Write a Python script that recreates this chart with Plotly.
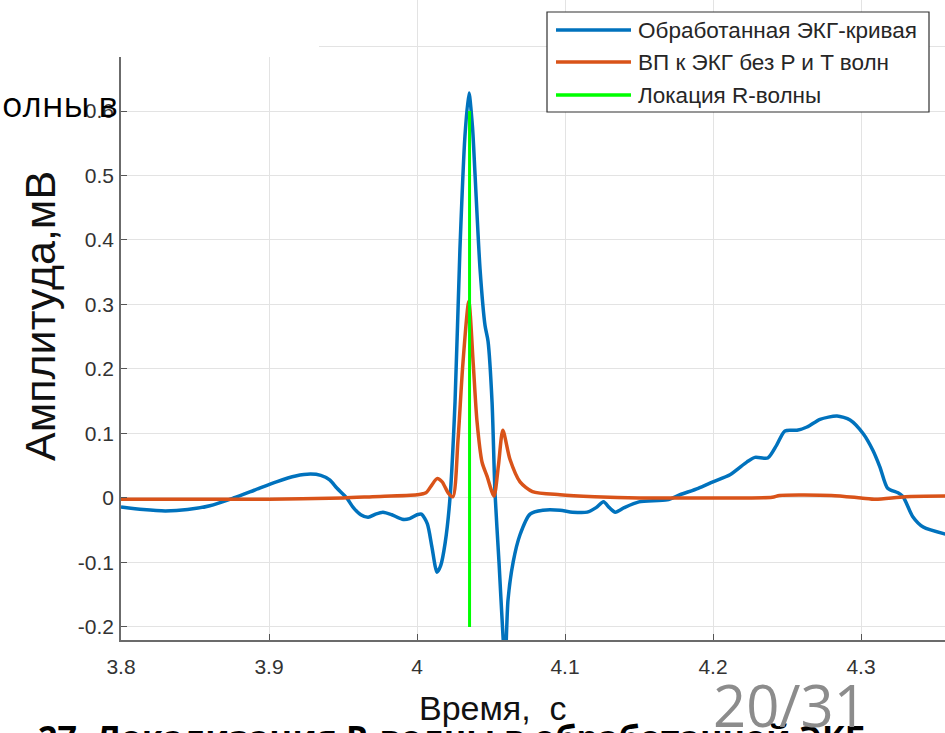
import plotly.graph_objects as go

# ---------------- data ----------------
ecg_t = [3.800, 3.815, 3.830, 3.845, 3.860, 3.876, 3.890, 3.905, 3.918, 3.928,
         3.935, 3.941, 3.946, 3.9525, 3.957, 3.962, 3.967, 3.972, 3.977, 3.983,
         3.990, 3.995, 4.000, 4.003, 4.007, 4.010, 4.0135, 4.016, 4.019, 4.0223,
         4.0257, 4.029, 4.0324, 4.0351, 4.0375, 4.0392, 4.0426, 4.046, 4.048, 4.0507,
         4.0527, 4.0554, 4.058, 4.0595, 4.0615, 4.065, 4.0696, 4.0764, 4.085, 4.0966,
         4.105, 4.115, 4.121, 4.126, 4.130, 4.134, 4.140, 4.150, 4.169, 4.1777,
         4.190, 4.200, 4.2115, 4.223, 4.2284, 4.237, 4.243, 4.2486, 4.2568, 4.2635,
         4.2723, 4.2838, 4.2926, 4.3014, 4.308, 4.3128, 4.318, 4.325, 4.3284, 4.335,
         4.342, 4.357]
ecg_v = [-0.014, -0.018, -0.020, -0.018, -0.012, 0.000, 0.012, 0.025, 0.034, 0.037,
         0.035, 0.028, 0.015, 0.000, -0.015, -0.026, -0.030, -0.025, -0.022, -0.026,
         -0.033, -0.032, -0.026, -0.025, -0.040, -0.075, -0.115, -0.105, -0.070, 0.000,
         0.149, 0.385, 0.561, 0.628, 0.575, 0.502, 0.355, 0.267, 0.243, 0.149,
         0.008, -0.099, -0.210, -0.260, -0.158, -0.099, -0.057, -0.025, -0.019, -0.019,
         -0.022, -0.022, -0.015, -0.006, -0.015, -0.022, -0.015, -0.006, -0.003, 0.005,
         0.015, 0.025, 0.036, 0.056, 0.063, 0.062, 0.082, 0.104, 0.105, 0.110,
         0.122, 0.127, 0.121, 0.100, 0.074, 0.048, 0.015, 0.008, 0.002, -0.029,
         -0.045, -0.056]

ht_t = [3.800, 3.900, 3.950, 3.970, 4.000, 4.006, 4.010, 4.0135, 4.017, 4.021,
        4.0243, 4.0277, 4.031, 4.035, 4.038, 4.0405, 4.044, 4.0473, 4.052, 4.055,
        4.058, 4.0628, 4.0696, 4.078, 4.0966, 4.120, 4.150, 4.200, 4.240, 4.245,
        4.280, 4.300, 4.310, 4.330, 4.357]
ht_v = [-0.002, -0.002, 0.000, 0.002, 0.005, 0.008, 0.020, 0.030, 0.025, 0.008,
        0.002, 0.090, 0.208, 0.305, 0.208, 0.120, 0.055, 0.034, 0.003, 0.050,
        0.105, 0.060, 0.025, 0.010, 0.005, 0.002, 0.000, 0.000, 0.001, 0.004,
        0.004, 0.000, -0.002, 0.002, 0.003]

r_loc_t = [4.0355, 4.0355]
r_loc_v = [-0.2, 0.6]

series_names = ["Обработанная ЭКГ-кривая", "ВП к ЭКГ без P и T волн", "Локация R-волны"]
series_colors = ["#0072BD", "#D95319", "#00FF00"]

x_ticks = [3.8, 3.9, 4.0, 4.1, 4.2, 4.3]
x_tick_text = ["3.8", "3.9", "4", "4.1", "4.2", "4.3"]
y_ticks = [-0.2, -0.1, 0, 0.1, 0.2, 0.3, 0.4, 0.5, 0.6, 0.7]
y_tick_text = ["-0.2", "-0.1", "0", "0.1", "0.2", "0.3", "0.4", "0.5", "0.6", "0.7"]

x_label = "Время,  с"
y_label = "Амплитуда,мВ"
page_label = "20/31"
title_fragment = "олны в"
caption = "27. Локализация R-волны в обработанной ЭКГ"

# ---------------- layout helpers ----------------
W, H = 945, 733
L, R, T, B = 121, 0, 0, 93
PW, PH = W - L - R, H - T - B


def px(x):
    return (x - L) / PW


def py(y):
    return (T + PH - y) / PH


fig = go.Figure()
fig.add_trace(go.Scatter(x=ecg_t, y=ecg_v, mode="lines", name=series_names[0],
                         line=dict(color=series_colors[0], width=3.5, shape="spline", smoothing=0.7)))
fig.add_trace(go.Scatter(x=ht_t, y=ht_v, mode="lines", name=series_names[1],
                         line=dict(color=series_colors[1], width=3.5, shape="spline", smoothing=0.7)))
fig.add_trace(go.Scatter(x=r_loc_t, y=r_loc_v, mode="lines", name=series_names[2],
                         line=dict(color=series_colors[2], width=3)))

tick_font = dict(family="Liberation Sans, Arial, sans-serif", size=21, color="#333333")

fig.update_layout(
    width=W, height=H,
    margin=dict(l=L, r=R, t=T, b=B, pad=0),
    paper_bgcolor="white", plot_bgcolor="white",
    showlegend=False,
    xaxis=dict(range=[3.8, 3.8 + PW / 1480.0], tickvals=x_ticks, ticktext=x_tick_text,
               showgrid=True, gridcolor="#e3e3e3", gridwidth=1,
               showline=True, linecolor="#6b6b6b", linewidth=1.5,
               ticks="inside", ticklen=6, tickcolor="#555555",
               tickfont=tick_font, ticklabelstandoff=7, zeroline=False),
    yaxis=dict(range=[-0.2202, 0.7721], tickvals=y_ticks, ticktext=y_tick_text,
               showgrid=True, gridcolor="#e3e3e3", gridwidth=1,
               showline=True, linecolor="#6b6b6b", linewidth=1.5,
               ticks="inside", ticklen=6, tickcolor="#555555",
               tickfont=tick_font, ticklabelstandoff=1, zeroline=False),
)

shapes = []
# white overlay from the slide covering the top-left corner
shapes.append(dict(type="rect", xref="paper", yref="paper", layer="above",
                   x0=px(-5), x1=px(319), y0=py(-5), y1=py(57),
                   fillcolor="white", line=dict(width=0)))
# legend box
lx0, lx1, ly0, ly1 = 547, 929, 12, 112
shapes.append(dict(type="rect", xref="paper", yref="paper", layer="above",
                   x0=px(lx0), x1=px(lx1), y0=py(ly1), y1=py(ly0),
                   fillcolor="white", line=dict(color="#303030", width=1.2)))
rows = [30, 62, 95]
annotations = []
for name, col, yy in zip(series_names, series_colors, rows):
    shapes.append(dict(type="line", xref="paper", yref="paper", layer="above",
                       x0=px(556), x1=px(631), y0=py(yy), y1=py(yy),
                       line=dict(color=col, width=3.5)))
    annotations.append(dict(x=px(636), y=py(yy), xref="paper", yref="paper",
                            text=name, showarrow=False, xanchor="left", yanchor="middle",
                            font=dict(family="Liberation Sans, Arial, sans-serif", size=22.5, color="#262626")))

annotations += [
    dict(x=px(120), y=py(104), xref="paper", yref="paper", text=title_fragment,
         showarrow=False, xanchor="right", yanchor="middle",
         font=dict(family="Open Sans, sans-serif", size=34, color="#000000")),
    dict(x=px(40), y=py(316), xref="paper", yref="paper", text=y_label, textangle=-90,
         showarrow=False, xanchor="center", yanchor="middle",
         font=dict(family="Liberation Sans, Arial, sans-serif", size=43, color="#111111")),
    dict(x=px(36), y=py(712), xref="paper", yref="paper", text="<b>" + caption + "</b>",
         showarrow=False, xanchor="left", yanchor="top",
         font=dict(family="Open Sans, sans-serif", size=34, color="#000000")),
    dict(x=px(493), y=py(708), xref="paper", yref="paper", text=x_label,
         showarrow=False, xanchor="center", yanchor="middle",
         font=dict(family="Liberation Sans Narrow, Liberation Sans, Arial, sans-serif", size=34, color="#111111")),
    dict(x=px(790), y=py(704), xref="paper", yref="paper", text=page_label,
         showarrow=False, xanchor="center", yanchor="middle",
         font=dict(family="Open Sans, sans-serif", size=58, color="#8c8c8c")),
]

fig.update_layout(shapes=shapes, annotations=annotations)
fig.write_html("out.html")
